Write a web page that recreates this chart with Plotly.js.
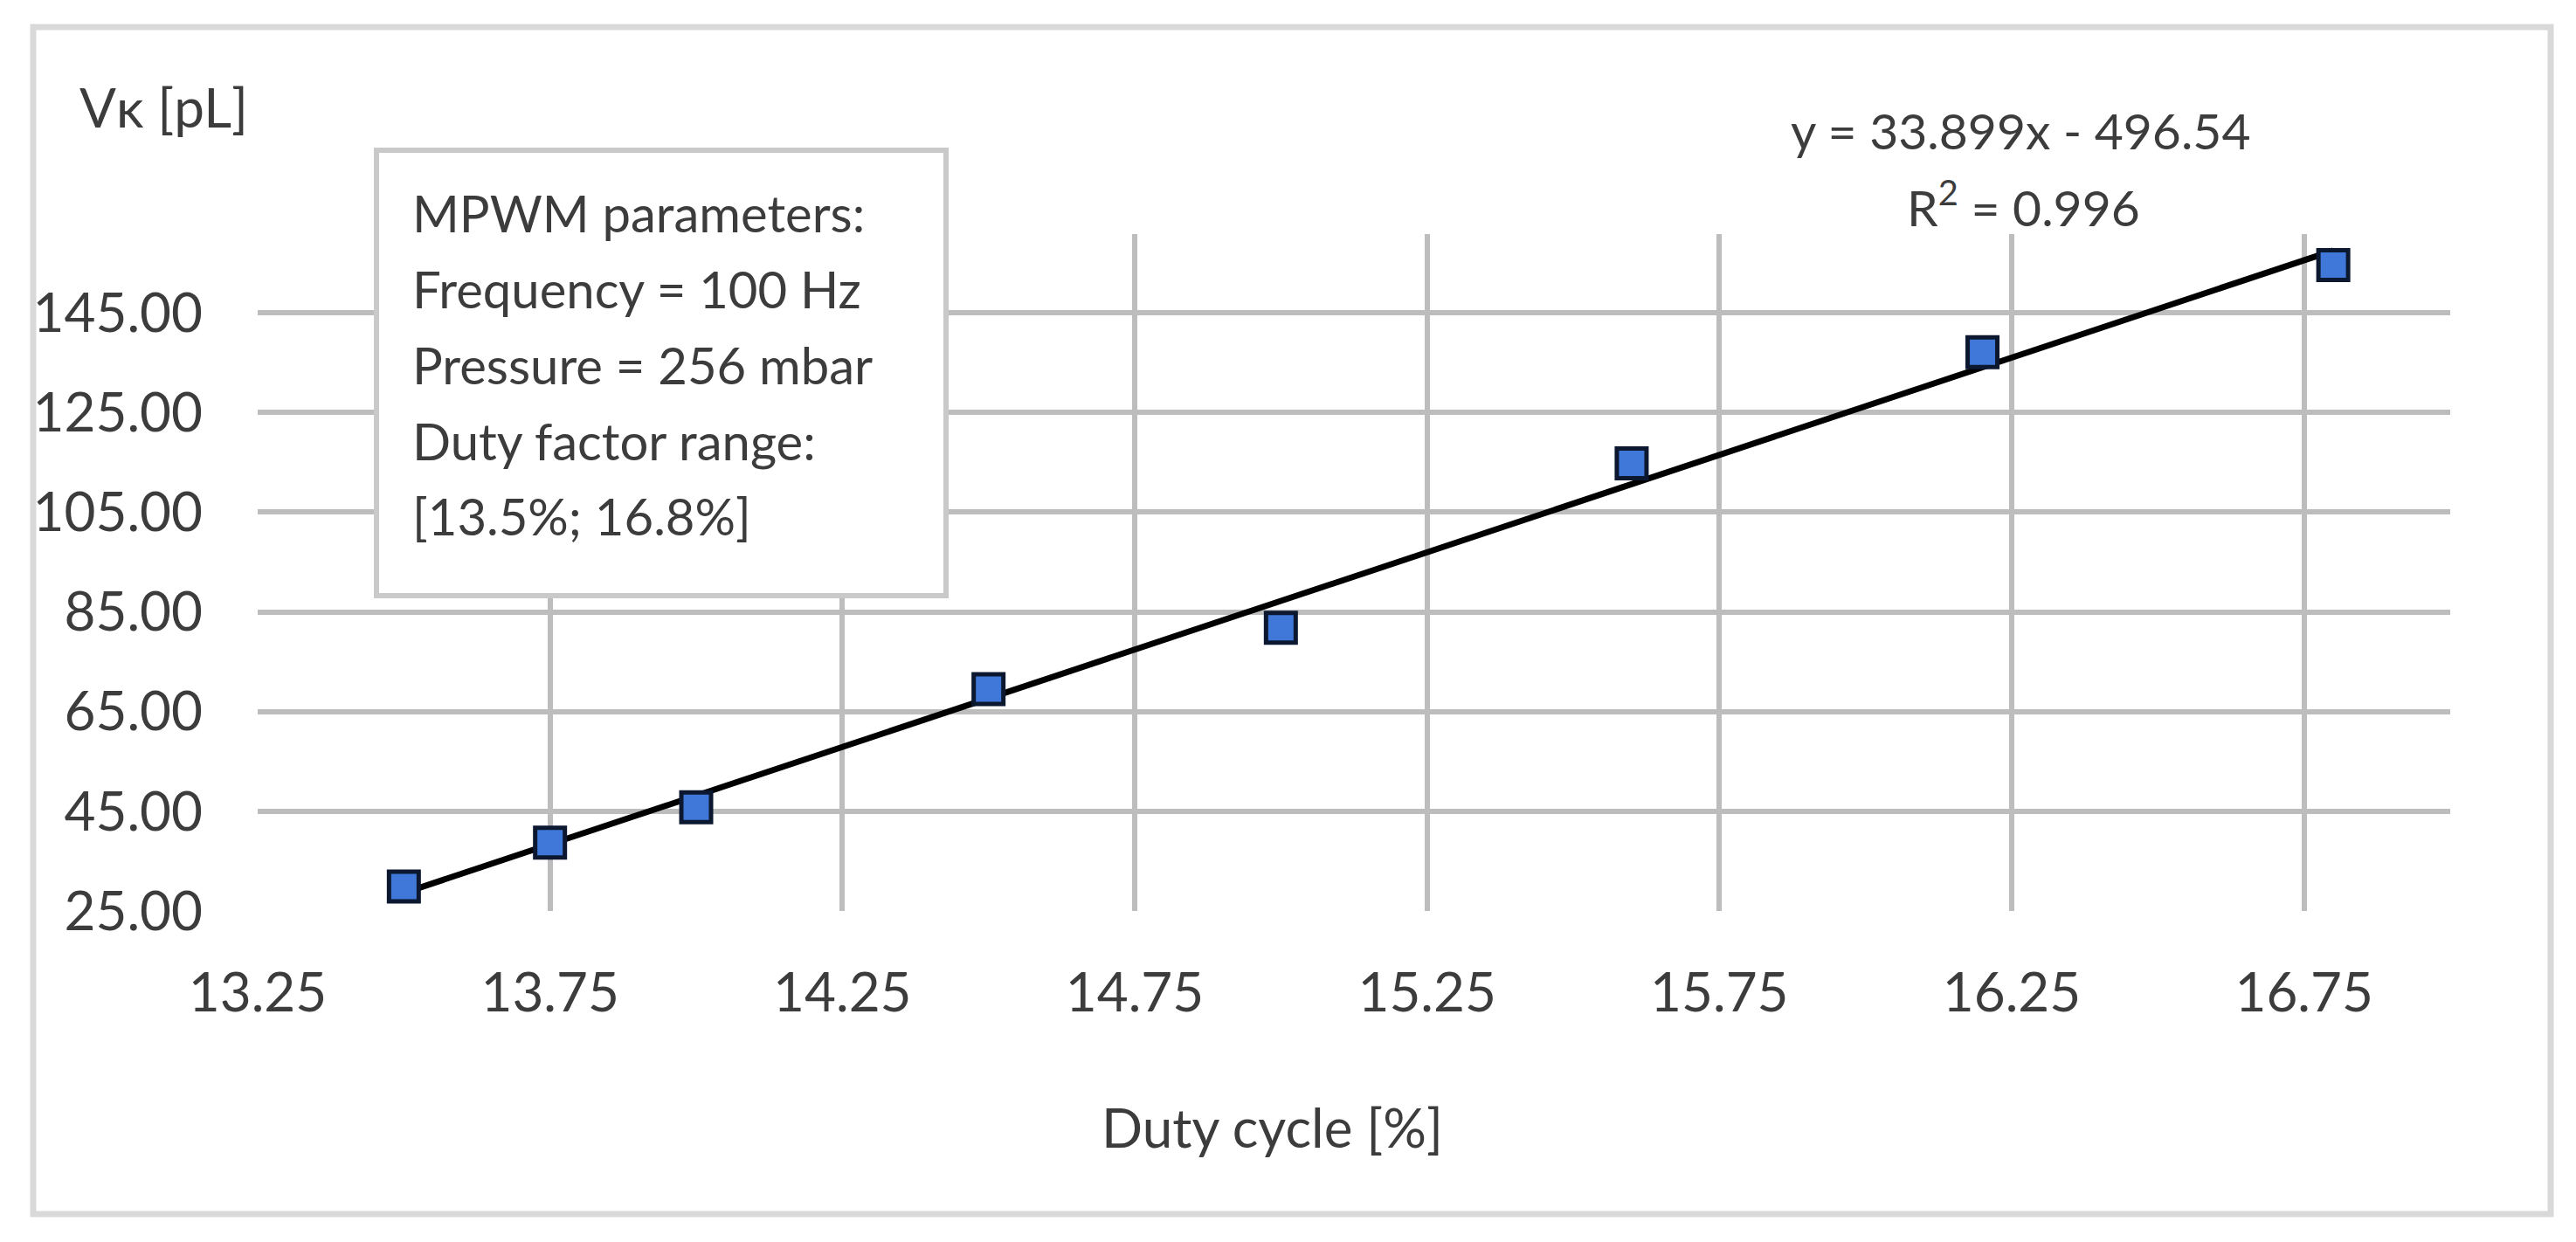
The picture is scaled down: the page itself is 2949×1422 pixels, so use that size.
<!DOCTYPE html>
<html>
<head>
<meta charset="utf-8">
<script src="https://cdn.plot.ly/plotly-3.0.1.min.js"></script>
<style>
  html, body { margin: 0; padding: 0; background: #ffffff; }
  #chart { width: 2949px; height: 1422px; }
</style>
</head>
<body>
<div id="chart"></div>
<script>
// ---- data ----
const dutyCycle = [13.5, 13.75, 14.0, 14.5, 15.0, 15.6, 16.2, 16.8];
const volume    = [29.9, 38.7, 45.8, 69.5, 81.8, 114.8, 137.1, 154.6];

const xTickVals  = [13.25, 13.75, 14.25, 14.75, 15.25, 15.75, 16.25, 16.75];
const xTickText  = ["13.25", "13.75", "14.25", "14.75", "15.25", "15.75", "16.25", "16.75"];
const yTickVals  = [25, 45, 65, 85, 105, 125, 145];
const yTickText  = ["25.00", "45.00", "65.00", "85.00", "105.00", "125.00", "145.00"];

const xTitle = "Duty cycle [%]";
const yTitle = "Vκ [pL]";
const boxLines = [
  "MPWM parameters:",
  "Frequency = 100 Hz",
  "Pressure = 256 mbar",
  "Duty factor range:",
  "[13.5%; 16.8%]"
];
const eqLines = ["y = 33.899x - 496.54", "R<sup>2</sup> = 0.996"];

// ---- linear trend line computed from the data ----
function linFit(xs, ys) {
  const n = xs.length;
  const mx = xs.reduce((a, b) => a + b, 0) / n;
  const my = ys.reduce((a, b) => a + b, 0) / n;
  let sxy = 0, sxx = 0;
  for (let i = 0; i < n; i++) { sxy += (xs[i] - mx) * (ys[i] - my); sxx += (xs[i] - mx) ** 2; }
  const b = sxy / sxx;
  return { slope: b, icpt: my - b * mx };
}
const fit = linFit(dutyCycle, volume);
const trendX = [Math.min(...dutyCycle), Math.max(...dutyCycle)];
const trendY = trendX.map(x => fit.slope * x + fit.icpt);

// ---- layout geometry (pixels) ----
const W = 2949, H = 1422;
const L = 295, R = 2805, T = 268, B = 1043;
const pw = R - L, ph = B - T;
const px = v => (v - L) / pw;
const py = v => (B - v) / ph;

const FONT = "Lato, 'Open Sans', sans-serif";
const TXT = "#3c3c3c";
const GRID = "#bdbdbd";

const traces = [
  {
    x: trendX, y: trendY, type: "scatter", mode: "lines",
    line: { color: "#000000", width: 7 }, hoverinfo: "skip", showlegend: false
  },
  {
    x: dutyCycle, y: volume, type: "scatter", mode: "markers",
    marker: { symbol: "square", size: 34, color: "#3f78d8", line: { color: "#0c1830", width: 5 } },
    showlegend: false
  }
];

const annotations = [];
// y axis title (top-left, horizontal)
annotations.push({ xref: "paper", yref: "paper", x: px(89), y: py(122), xanchor: "left", yanchor: "middle",
  text: yTitle, showarrow: false, font: { family: FONT, size: 62, color: TXT } });
// x axis title
annotations.push({ xref: "paper", yref: "paper", x: px(1456), y: py(1290), xanchor: "center", yanchor: "middle",
  text: xTitle, showarrow: false, font: { family: FONT, size: 62, color: TXT } });
// box lines
const boxLineY = [240, 326, 413, 500, 586];
boxLines.forEach((t, i) => annotations.push({ xref: "paper", yref: "paper", x: px(470), y: py(boxLineY[i] + 4),
  xanchor: "left", yanchor: "middle", text: t, showarrow: false, font: { family: FONT, size: 58, color: TXT } }));
// equation
const eqY = [145, 230];
const eqX = [2313, 2316];
eqLines.forEach((t, i) => annotations.push({ xref: "paper", yref: "paper", x: px(eqX[i]), y: py(eqY[i] + 4),
  xanchor: "center", yanchor: "middle", text: t, showarrow: false, font: { family: FONT, size: 57, color: TXT } }));

const shapes = [
  // outer chart frame
  { type: "rect", xref: "paper", yref: "paper", x0: px(38), x1: px(2920), y0: py(1390), y1: py(31),
    line: { color: "#d9d9d9", width: 7 }, fillcolor: "rgba(0,0,0,0)", layer: "below" },
  // parameter box
  { type: "rect", xref: "paper", yref: "paper", x0: px(431), x1: px(1083), y0: py(682), y1: py(172),
    line: { color: "#c9c9c9", width: 6 }, fillcolor: "#ffffff", layer: "above" }
];

const layout = {
  width: W, height: H,
  margin: { l: L, r: W - R, t: T, b: H - B, pad: 0 },
  paper_bgcolor: "#ffffff", plot_bgcolor: "#ffffff",
  showlegend: false,
  xaxis: {
    range: [13.25, 17.0], tickmode: "array", tickvals: xTickVals, ticktext: xTickText,
    showgrid: true, gridcolor: GRID, gridwidth: 6, zeroline: false,
    showline: false, ticks: "", ticklabelstandoff: 52,
    tickfont: { family: FONT, size: 62, color: TXT }, fixedrange: true
  },
  yaxis: {
    range: [25, 160.8], tickmode: "array", tickvals: yTickVals, ticktext: yTickText,
    showgrid: true, gridcolor: GRID, gridwidth: 6, zeroline: false,
    showline: false, ticks: "", ticklabelstandoff: 62,
    tickfont: { family: FONT, size: 62, color: TXT }, fixedrange: true
  },
  annotations: annotations,
  shapes: shapes
};

Plotly.newPlot("chart", traces, layout, { displayModeBar: false, staticPlot: true });
</script>
</body>
</html>
